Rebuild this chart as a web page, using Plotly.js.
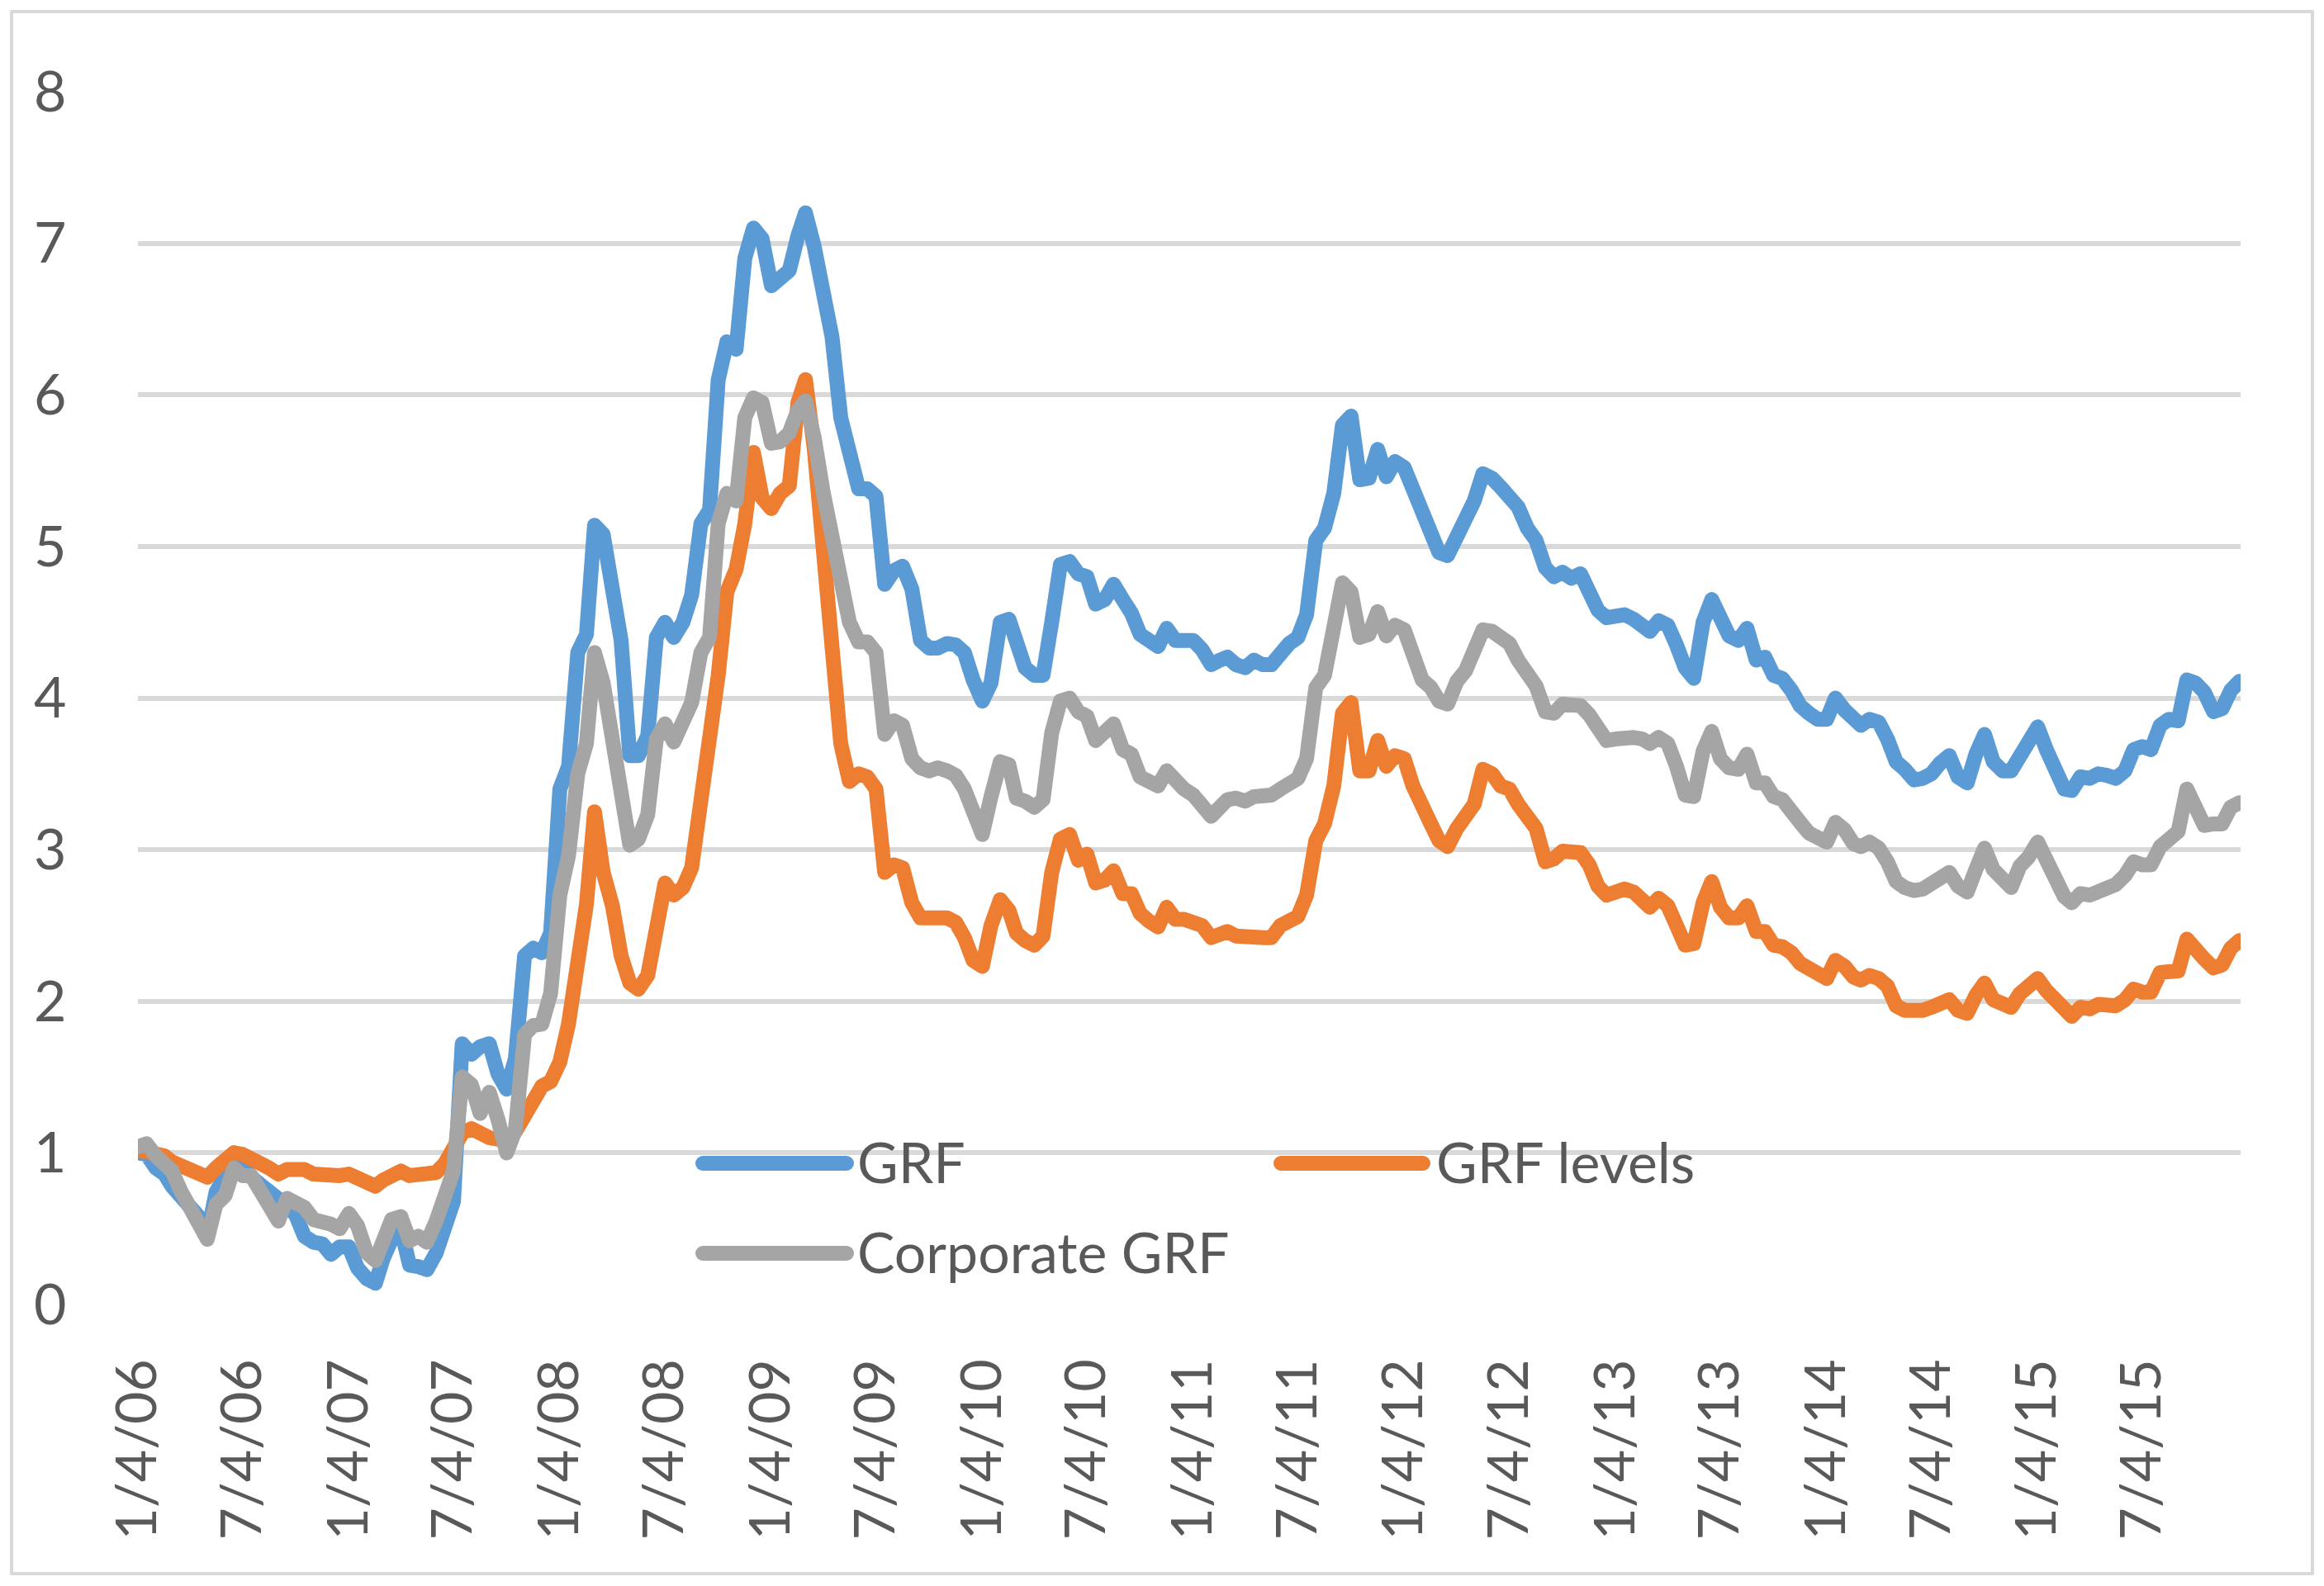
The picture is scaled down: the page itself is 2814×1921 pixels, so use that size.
<!DOCTYPE html>
<html><head><meta charset="utf-8">
<script src="https://cdn.plot.ly/plotly-3.0.1.min.js"></script>
<style>
html,body{margin:0;padding:0;background:#fff}
#chart{width:2814px;height:1921px}
#chart path.js-line{stroke-linejoin:round !important;stroke-linecap:round !important}
#chart .shapelayer path{stroke-linecap:round !important;stroke-linejoin:round !important}
</style>
</head><body><div id="chart"></div>
<script>
const dates = [
"2006-01-04","2006-01-19","2006-02-04","2006-02-19","2006-03-04","2006-03-19","2006-04-04","2006-04-19","2006-05-04","2006-05-19","2006-06-04","2006-06-19","2006-07-04","2006-07-19","2006-08-04","2006-08-19","2006-09-04","2006-09-19","2006-10-04","2006-10-19","2006-11-04","2006-11-19","2006-12-04","2006-12-19",
"2007-01-04","2007-01-19","2007-02-04","2007-02-19","2007-03-04","2007-03-19","2007-04-04","2007-04-19","2007-05-04","2007-05-19","2007-06-04","2007-06-19","2007-07-04","2007-07-19","2007-08-04","2007-08-19","2007-09-04","2007-09-19","2007-10-04","2007-10-19","2007-11-04","2007-11-19","2007-12-04","2007-12-19",
"2008-01-04","2008-01-19","2008-02-04","2008-02-19","2008-03-04","2008-03-19","2008-04-04","2008-04-19","2008-05-04","2008-05-19","2008-06-04","2008-06-19","2008-07-04","2008-07-19","2008-08-04","2008-08-19","2008-09-04","2008-09-19","2008-10-04","2008-10-19","2008-11-04","2008-11-19","2008-12-04","2008-12-19",
"2009-01-04","2009-01-19","2009-02-04","2009-02-19","2009-03-04","2009-03-19","2009-04-04","2009-04-19","2009-05-04","2009-05-19","2009-06-04","2009-06-19","2009-07-04","2009-07-19","2009-08-04","2009-08-19","2009-09-04","2009-09-19","2009-10-04","2009-10-19","2009-11-04","2009-11-19","2009-12-04","2009-12-19",
"2010-01-04","2010-01-19","2010-02-04","2010-02-19","2010-03-04","2010-03-19","2010-04-04","2010-04-19","2010-05-04","2010-05-19","2010-06-04","2010-06-19","2010-07-04","2010-07-19","2010-08-04","2010-08-19","2010-09-04","2010-09-19","2010-10-04","2010-10-19","2010-11-04","2010-11-19","2010-12-04","2010-12-19",
"2011-01-04","2011-01-19","2011-02-04","2011-02-19","2011-03-04","2011-03-19","2011-04-04","2011-04-19","2011-05-04","2011-05-19","2011-06-04","2011-06-19","2011-07-04","2011-07-19","2011-08-04","2011-08-19","2011-09-04","2011-09-19","2011-10-04","2011-10-19","2011-11-04","2011-11-19","2011-12-04","2011-12-19",
"2012-01-04","2012-01-19","2012-02-04","2012-02-19","2012-03-04","2012-03-19","2012-04-04","2012-04-19","2012-05-04","2012-05-19","2012-06-04","2012-06-19","2012-07-04","2012-07-19","2012-08-04","2012-08-19","2012-09-04","2012-09-19","2012-10-04","2012-10-19","2012-11-04","2012-11-19","2012-12-04","2012-12-19",
"2013-01-04","2013-01-19","2013-02-04","2013-02-19","2013-03-04","2013-03-19","2013-04-04","2013-04-19","2013-05-04","2013-05-19","2013-06-04","2013-06-19","2013-07-04","2013-07-19","2013-08-04","2013-08-19","2013-09-04","2013-09-19","2013-10-04","2013-10-19","2013-11-04","2013-11-19","2013-12-04","2013-12-19",
"2014-01-04","2014-01-19","2014-02-04","2014-02-19","2014-03-04","2014-03-19","2014-04-04","2014-04-19","2014-05-04","2014-05-19","2014-06-04","2014-06-19","2014-07-04","2014-07-19","2014-08-04","2014-08-19","2014-09-04","2014-09-19","2014-10-04","2014-10-19","2014-11-04","2014-11-19","2014-12-04","2014-12-19",
"2015-01-04","2015-01-19","2015-02-04","2015-02-19","2015-03-04","2015-03-19","2015-04-04","2015-04-19","2015-05-04","2015-05-19","2015-06-04","2015-06-19","2015-07-04","2015-07-19","2015-08-04","2015-08-19","2015-09-04","2015-09-19","2015-10-04","2015-10-19","2015-11-04","2015-11-19","2015-12-04","2015-12-19"
];

const grf = [
1.0,0.99,0.9,0.86,0.78,0.71,0.66,0.58,0.45,0.74,0.85,1.0,0.93,0.84,0.79,0.75,0.7,0.65,0.59,0.45,0.41,0.4,0.33,0.38,
0.38,0.24,0.17,0.14,0.3,0.43,0.5,0.26,0.25,0.23,0.34,0.49,0.68,1.72,1.65,1.7,1.72,1.52,1.42,1.62,2.3,2.35,2.32,2.45,
3.4,3.55,4.3,4.42,5.14,5.08,4.65,4.38,3.62,3.62,3.75,4.4,4.5,4.4,4.5,4.68,5.15,5.24,6.1,6.35,6.3,6.9,7.1,7.03,
6.72,6.77,6.82,7.05,7.2,6.98,6.7,6.38,5.85,5.6,5.38,5.38,5.33,4.75,4.84,4.87,4.72,4.38,4.33,4.33,4.36,4.35,4.3,4.12,
3.98,4.1,4.5,4.52,4.36,4.2,4.15,4.15,4.5,4.88,4.9,4.82,4.8,4.62,4.65,4.75,4.65,4.56,4.42,4.39,4.34,4.46,4.38,4.38,
4.38,4.32,4.22,4.25,4.27,4.22,4.2,4.25,4.22,4.22,4.3,4.36,4.4,4.55,5.04,5.12,5.35,5.8,5.86,5.44,5.45,5.64,5.46,5.56,
5.52,5.37,5.19,5.08,4.96,4.94,5.07,5.17,5.3,5.48,5.45,5.39,5.32,5.26,5.12,5.04,4.86,4.8,4.83,4.79,4.82,4.71,4.58,4.53,
4.54,4.55,4.52,4.49,4.44,4.51,4.48,4.35,4.2,4.13,4.5,4.65,4.5,4.41,4.38,4.46,4.25,4.27,4.15,4.13,4.05,3.95,3.9,3.86,
3.86,4.0,3.92,3.86,3.82,3.86,3.84,3.73,3.58,3.53,3.46,3.47,3.5,3.57,3.62,3.48,3.44,3.63,3.76,3.58,3.52,3.52,3.63,3.74,
3.81,3.66,3.54,3.4,3.39,3.48,3.47,3.5,3.49,3.47,3.52,3.66,3.68,3.66,3.82,3.86,3.85,4.12,4.1,4.04,3.91,3.93,4.05,4.11
];

const grfLevels = [
1.02,1.01,1.01,0.98,0.94,0.92,0.89,0.88,0.84,0.9,0.96,1.0,0.99,0.97,0.93,0.9,0.86,0.89,0.9,0.89,0.86,0.85,0.86,0.85,
0.86,0.84,0.81,0.78,0.82,0.86,0.88,0.85,0.85,0.85,0.87,0.93,1.02,1.13,1.16,1.12,1.1,1.09,1.1,1.14,1.24,1.36,1.44,1.47,
1.6,1.85,2.25,2.64,3.25,2.85,2.63,2.3,2.12,2.08,2.17,2.45,2.78,2.7,2.75,2.88,3.3,3.7,4.15,4.7,4.85,5.15,5.62,5.32,
5.25,5.35,5.4,5.95,6.1,5.65,4.95,4.25,3.7,3.45,3.5,3.48,3.4,2.85,2.9,2.88,2.65,2.55,2.55,2.57,2.55,2.52,2.42,2.27,
2.23,2.5,2.67,2.6,2.45,2.4,2.37,2.43,2.85,3.07,3.1,2.93,2.97,2.78,2.8,2.86,2.71,2.71,2.58,2.53,2.49,2.62,2.54,2.54,
2.53,2.5,2.42,2.45,2.46,2.43,2.42,2.42,2.42,2.42,2.5,2.53,2.56,2.7,3.06,3.17,3.42,3.9,3.97,3.52,3.52,3.72,3.55,3.62,
3.6,3.42,3.26,3.17,3.06,3.02,3.14,3.21,3.3,3.53,3.5,3.42,3.4,3.3,3.21,3.14,2.92,2.94,2.99,2.98,2.98,2.9,2.76,2.7,
2.72,2.74,2.72,2.68,2.62,2.68,2.63,2.5,2.37,2.38,2.65,2.79,2.62,2.55,2.55,2.63,2.46,2.46,2.37,2.36,2.32,2.25,2.21,2.17,
2.15,2.27,2.23,2.16,2.14,2.17,2.15,2.1,1.97,1.94,1.93,1.94,1.96,1.99,2.01,1.94,1.92,2.04,2.12,2.01,1.98,1.96,2.05,2.09,
2.15,2.07,2.0,1.92,1.9,1.96,1.95,1.98,1.98,1.97,2.01,2.08,2.06,2.06,2.19,2.2,2.2,2.41,2.36,2.28,2.22,2.24,2.35,2.4
];

const corporateGrf = [
1.04,1.06,0.98,0.94,0.88,0.75,0.64,0.52,0.43,0.66,0.72,0.9,0.85,0.85,0.74,0.65,0.55,0.7,0.68,0.64,0.56,0.55,0.53,0.5,
0.6,0.52,0.34,0.29,0.42,0.56,0.58,0.42,0.45,0.41,0.55,0.76,0.88,1.5,1.45,1.26,1.4,1.22,1.0,1.15,1.78,1.84,1.85,2.05,
2.7,2.96,3.5,3.7,4.3,4.1,3.68,3.3,3.03,3.07,3.23,3.73,3.83,3.71,3.87,3.97,4.3,4.4,5.15,5.35,5.3,5.85,5.98,5.95,
5.68,5.69,5.75,5.9,5.96,5.72,5.35,5.07,4.72,4.5,4.37,4.37,4.3,3.76,3.85,3.82,3.6,3.54,3.52,3.54,3.52,3.49,3.4,3.22,
3.1,3.35,3.58,3.56,3.34,3.32,3.28,3.33,3.77,3.98,4.0,3.91,3.88,3.72,3.78,3.83,3.66,3.63,3.48,3.44,3.42,3.52,3.44,3.4,
3.36,3.3,3.22,3.28,3.33,3.34,3.32,3.35,3.35,3.36,3.4,3.45,3.47,3.6,4.07,4.15,4.42,4.76,4.7,4.4,4.42,4.57,4.41,4.48,
4.45,4.3,4.12,4.07,3.98,3.96,4.11,4.18,4.3,4.45,4.44,4.39,4.36,4.25,4.17,4.08,3.91,3.9,3.96,3.95,3.95,3.89,3.78,3.72,
3.73,3.74,3.74,3.73,3.7,3.74,3.7,3.55,3.36,3.35,3.65,3.78,3.6,3.54,3.53,3.63,3.44,3.44,3.35,3.33,3.27,3.18,3.11,3.07,
3.05,3.18,3.13,3.04,3.02,3.05,3.01,2.92,2.79,2.75,2.73,2.74,2.77,2.82,2.85,2.76,2.72,2.87,3.01,2.87,2.79,2.75,2.89,2.95,
3.05,2.93,2.8,2.69,2.65,2.71,2.7,2.73,2.75,2.77,2.83,2.92,2.9,2.9,3.02,3.08,3.12,3.4,3.3,3.16,3.17,3.17,3.28,3.31
];

const tickDates = ["2006-01-04","2006-07-04","2007-01-04","2007-07-04","2008-01-04","2008-07-04","2009-01-04","2009-07-04","2010-01-04","2010-07-04","2011-01-04","2011-07-04","2012-01-04","2012-07-04","2013-01-04","2013-07-04","2014-01-04","2014-07-04","2015-01-04","2015-07-04"];
const tickLabels = ["1/4/06","7/4/06","1/4/07","7/4/07","1/4/08","7/4/08","1/4/09","7/4/09","1/4/10","7/4/10","1/4/11","7/4/11","1/4/12","7/4/12","1/4/13","7/4/13","1/4/14","7/4/14","1/4/15","7/4/15"];
const yTicks = [0,1,2,3,4,5,6,7,8];
const seriesNames = ["GRF","GRF levels","Corporate GRF"];

const COLORS = {"GRF":"#5B9BD5","GRF levels":"#ED7D31","Corporate GRF":"#A5A5A5"};
const FONT = "Lato, 'Open Sans', sans-serif";
const W = 2814, H = 1921, L = 167, R = 101, T = 111, B = 341;
const pw = W - L - R, ph = H - T - B;
const fx = p => (p - L) / pw;
const fy = p => (H - B - p) / ph;
const LW = 18;

const seriesValues = {"GRF": grf, "GRF levels": grfLevels, "Corporate GRF": corporateGrf};
const traces = seriesNames.map(n => ({
  type: "scatter", mode: "lines", name: n, x: dates, y: seriesValues[n],
  line: {color: COLORS[n], width: LW, shape: "linear"}, showlegend: false, hoverinfo: "x+y+name"
}));

// legend (drawn as shapes + text)
const legendItems = [
  {name: "GRF", x0: 851, x1: 1025, tx: 1036, y: 1409},
  {name: "GRF levels", x0: 1551, x1: 1723, tx: 1737, y: 1409},
  {name: "Corporate GRF", x0: 851, x1: 1025, tx: 1036, y: 1518}
];
const shapes = [
  {type: "rect", xref: "paper", yref: "paper", x0: fx(14), x1: fx(2800), y0: fy(1906), y1: fy(14),
   line: {color: "#D9D9D9", width: 4}, fillcolor: "rgba(0,0,0,0)", layer: "below"}
];
const annotations = [];
legendItems.forEach(it => {
  shapes.push({type: "line", xref: "paper", yref: "paper", x0: fx(it.x0), x1: fx(it.x1), y0: fy(it.y), y1: fy(it.y),
    line: {color: COLORS[it.name], width: LW}});
  annotations.push({xref: "paper", yref: "paper", x: fx(it.tx), y: fy(it.y - 3), xanchor: "left", yanchor: "middle",
    text: it.name, showarrow: false, font: {family: FONT, size: 68, color: "#595959"}});
});

const layout = {
  width: W, height: H,
  margin: {l: L, r: R, t: T, b: B, pad: 0},
  paper_bgcolor: "#ffffff", plot_bgcolor: "#ffffff",
  font: {family: FONT, size: 68, color: "#595959"},
  showlegend: false,
  xaxis: {
    type: "date", range: ["2006-01-04", "2015-12-21"],
    tickmode: "array", tickvals: tickDates, ticktext: tickLabels, tickangle: -90,
    ticks: "outside", ticklen: 38, tickcolor: "rgba(0,0,0,0)",
    showgrid: false, zeroline: false, showline: false, automargin: false,
    tickfont: {family: FONT, size: 68, color: "#595959"}
  },
  yaxis: {
    range: [0, 8], tickmode: "array", tickvals: yTicks, ticktext: yTicks.map(String),
    ticks: "outside", ticklen: 72, tickcolor: "rgba(0,0,0,0)",
    showgrid: true, gridcolor: "#D9D9D9", gridwidth: 6, zeroline: false, showline: false, automargin: false,
    tickfont: {family: FONT, size: 68, color: "#595959"}
  },
  shapes: shapes,
  annotations: annotations
};

Plotly.newPlot("chart", traces, layout, {staticPlot: true, displayModeBar: false});
</script>
</body></html>
